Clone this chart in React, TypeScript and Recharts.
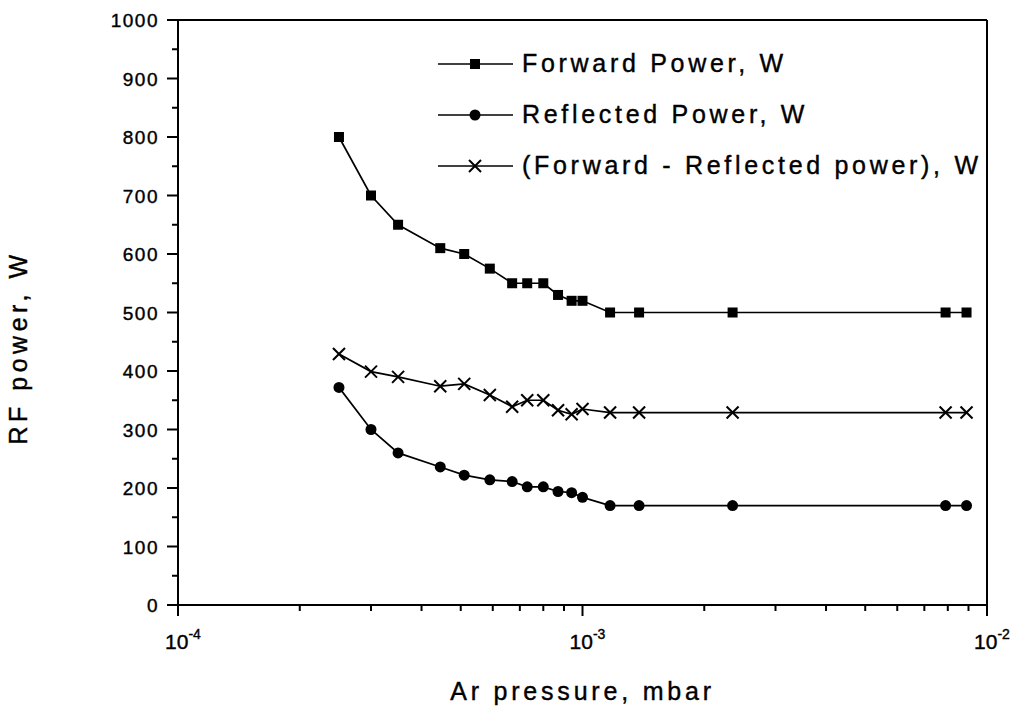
import { LineChart, Line, XAxis, YAxis, ReferenceLine } from 'recharts';

// Ar pressure, mbar
const pressure = [2.5e-4, 3.0e-4, 3.5e-4, 4.45e-4, 5.1e-4, 5.9e-4, 6.7e-4, 7.3e-4, 8.0e-4, 8.7e-4, 9.4e-4, 1.0e-3, 1.17e-3, 1.38e-3, 2.35e-3, 7.9e-3, 8.9e-3];
// RF power, W
const forward = [800, 700, 650, 610, 600, 575, 550, 550, 550, 530, 520, 520, 500, 500, 500, 500, 500];
const reflected = [372, 300, 260, 236, 222, 214, 211, 202, 202, 194, 192, 184, 170, 170, 170, 170, 170];
const difference = [429, 399, 390, 374, 378, 359, 339, 350, 350, 333, 326, 335, 329, 329, 329, 329, 329];

const xMajor = [1e-4, 1e-3, 1e-2];
const xMinor = [2e-4, 3e-4, 4e-4, 5e-4, 6e-4, 7e-4, 8e-4, 9e-4, 2e-3, 3e-3, 4e-3, 5e-3, 6e-3, 7e-3, 8e-3, 9e-3];
const xExponents = ['-4', '-3', '-2'];
const yTicks = [0, 50, 100, 150, 200, 250, 300, 350, 400, 450, 500, 550, 600, 650, 700, 750, 800, 850, 900, 950, 1000];

const seriesNames = ['Forward Power, W', 'Reflected Power, W', '(Forward - Reflected power), W'];
const seriesKeys = ['forward', 'reflected', 'difference'];
const seriesShapes = ['square', 'circle', 'cross'];

const data = pressure.map((p, i) => ({ p, forward: forward[i], reflected: reflected[i], difference: difference[i] }));

const FONT = 'Arial, "Liberation Sans", sans-serif';
const INK = '#000';

function Marker({ shape, cx, cy }: { shape: string; cx: number; cy: number }) {
  if (shape === 'square') return <rect x={cx - 5} y={cy - 5} width={10} height={10} fill={INK} />;
  if (shape === 'circle') return <circle cx={cx} cy={cy} r={5.5} fill={INK} />;
  return (
    <g stroke={INK} strokeWidth={2}>
      <line x1={cx - 6} y1={cy - 6} x2={cx + 6} y2={cy + 6} />
      <line x1={cx - 6} y1={cy + 6} x2={cx + 6} y2={cy - 6} />
    </g>
  );
}

function XTick({ x, y, payload }: any) {
  const i = xMajor.indexOf(payload.value);
  const major = i >= 0;
  return (
    <g>
      <line x1={x} y1={y} x2={x} y2={y + (major ? 11 : 6)} stroke={INK} strokeWidth={2} />
      {major && (
        <text x={x + 5} y={y + 44} textAnchor="middle" fontFamily={FONT} fontSize={21} fill={INK} stroke={INK} strokeWidth={0.4}>
          10<tspan dy={-10} fontSize={14}>{xExponents[i]}</tspan>
        </text>
      )}
    </g>
  );
}

function YTick({ x, y, payload }: any) {
  const major = payload.value % 100 === 0;
  return (
    <g>
      <line x1={x} y1={y} x2={x - (major ? 11 : 6)} y2={y} stroke={INK} strokeWidth={2} />
      {major && (
        <text x={x - 19} y={y + 7} textAnchor="end" fontFamily={FONT} fontSize={19} letterSpacing={1.5} fill={INK} stroke={INK} strokeWidth={0.4}>
          {payload.value}
        </text>
      )}
    </g>
  );
}

function LegendBox() {
  return (
    <div style={{ position: 'absolute', left: 438, top: 38, fontFamily: FONT }}>
      {seriesNames.map((name, i) => (
        <div key={name} style={{ display: 'flex', alignItems: 'center', height: 51 }}>
          <svg width={80} height={20} style={{ display: 'block' }}>
            <line x1={0} y1={10} x2={75} y2={10} stroke={INK} strokeWidth={1.5} />
            <Marker shape={seriesShapes[i]} cx={37} cy={10} />
          </svg>
          <span style={{ fontSize: 25, letterSpacing: 3.7, marginLeft: 4, color: INK, whiteSpace: 'nowrap', WebkitTextStroke: '0.4px #000' }}>{name}</span>
        </div>
      ))}
    </div>
  );
}

export default function App() {
  return (
    <div style={{ position: 'absolute', left: 0, top: 0, width: 1015, height: 708, background: '#fff' }}>
      <LineChart width={1015} height={708} data={data} margin={{ top: 20, right: 28, left: 0, bottom: 0 }}>
        <XAxis
          dataKey="p"
          type="number"
          scale="log"
          domain={[1e-4, 1e-2]}
          allowDataOverflow
          ticks={[...xMajor, ...xMinor]}
          interval={0}
          height={103}
          tick={<XTick />}
          tickLine={false}
          tickSize={0}
          tickMargin={0}
          axisLine={{ stroke: INK, strokeWidth: 2 }}
          label={{ value: 'Ar pressure, mbar', position: 'insideBottom', offset: 8, fontFamily: FONT, fontSize: 25, letterSpacing: 3.8, fill: INK, stroke: INK, strokeWidth: 0.4 }}
        />
        <YAxis
          type="number"
          domain={[0, 1000]}
          ticks={yTicks}
          interval={0}
          width={178}
          tick={<YTick />}
          tickLine={false}
          tickSize={0}
          tickMargin={0}
          axisLine={{ stroke: INK, strokeWidth: 2 }}
          label={{ value: 'RF power, W', angle: -90, position: 'insideLeft', offset: 18, dy: 35, fontFamily: FONT, fontSize: 25, letterSpacing: 4.5, fill: INK, stroke: INK, strokeWidth: 0.4, style: { textAnchor: 'middle' } }}
        />
        <ReferenceLine y={1000} stroke={INK} strokeWidth={2} />
        <ReferenceLine x={1e-2} stroke={INK} strokeWidth={2} />
        {seriesKeys.map((k, i) => (
          <Line
            key={k}
            dataKey={k}
            type="linear"
            stroke={INK}
            strokeWidth={1.7}
            isAnimationActive={false}
            dot={(props: any) => <Marker key={`${k}-${props.index}`} shape={seriesShapes[i]} cx={props.cx} cy={props.cy} />}
            activeDot={false}
          />
        ))}
      </LineChart>
      <LegendBox />
    </div>
  );
}
